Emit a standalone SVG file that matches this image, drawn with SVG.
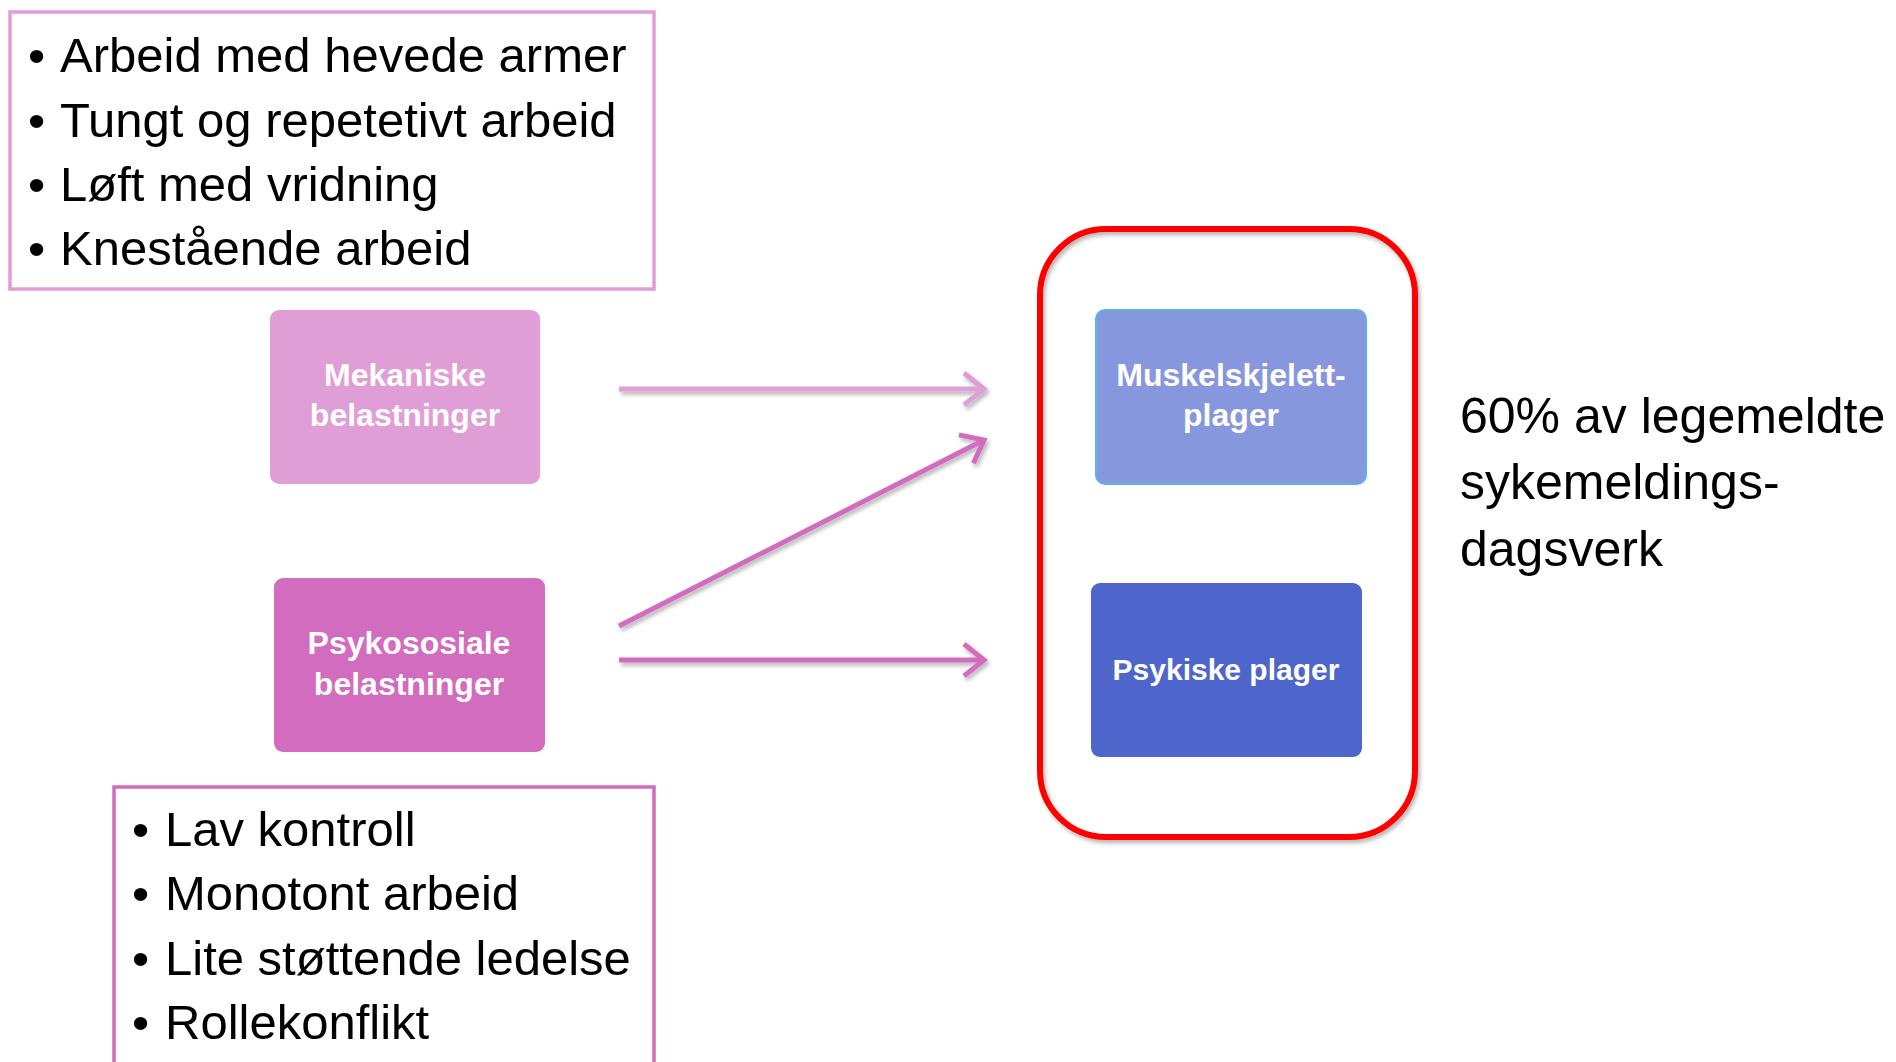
<svg xmlns="http://www.w3.org/2000/svg" width="1896" height="1062" viewBox="0 0 1896 1062">
  <defs>
    <style>
      .list { font-family: "Liberation Sans", Arial, sans-serif; font-size: 49px; fill: #000; }
      .node-text { font-family: "Liberation Sans", Arial, sans-serif; font-size: 32px; font-weight: bold; fill: #fff; text-anchor: middle; }
      .conn { fill: none; stroke-width: 5; }
      .c-light { stroke: #E09ED6; }
      .c-mag { stroke: #D16CBF; }
    </style>
    <filter id="shadow" x="-10%" y="-30%" width="120%" height="160%">
      <feDropShadow dx="2" dy="3" stdDeviation="2" flood-color="#000" flood-opacity="0.3"/>
    </filter>
    <marker id="arrLight" markerUnits="userSpaceOnUse" markerWidth="30" markerHeight="40" viewBox="0 0 30 40" refX="26" refY="20" orient="auto" overflow="visible">
      <path d="M6,4 L26,20 L6,36" fill="none" stroke="#E09ED6" stroke-width="5" stroke-linejoin="miter"/>
    </marker>
    <marker id="arrMag" markerUnits="userSpaceOnUse" markerWidth="30" markerHeight="40" viewBox="0 0 30 40" refX="26" refY="20" orient="auto" overflow="visible">
      <path d="M6,4 L26,20 L6,36" fill="none" stroke="#D16CBF" stroke-width="5" stroke-linejoin="miter"/>
    </marker>
  </defs>
  <rect width="1896" height="1062" fill="#fff"/>

  <g id="list-mekaniske">
    <rect x="10" y="12" width="644" height="277" fill="#fff" stroke="#E09ED6" stroke-width="3.5"/>
    <text class="list" x="28" y="72">•</text>
    <text class="list" x="60" y="72">Arbeid med hevede armer</text>
    <text class="list" x="28" y="137">•</text>
    <text class="list" x="60" y="137">Tungt og repetetivt arbeid</text>
    <text class="list" x="28" y="201">•</text>
    <text class="list" x="60" y="201">Løft med vridning</text>
    <text class="list" x="28" y="265">•</text>
    <text class="list" x="60" y="265">Knestående arbeid</text>
  </g>

  <g id="node-mekaniske">
    <rect x="270" y="310" width="270" height="174" rx="9" fill="#E09ED6"/>
    <text class="node-text" x="405" y="386">Mekaniske</text>
    <text class="node-text" x="405" y="426">belastninger</text>
  </g>

  <g id="node-psykososiale">
    <rect x="274" y="578" width="271" height="174" rx="9" fill="#D16CBF"/>
    <text class="node-text" x="409" y="654">Psykososiale</text>
    <text class="node-text" x="409" y="695">belastninger</text>
  </g>

  <g id="list-psykososiale">
    <path d="M114,1075 L114,787 L654,787 L654,1075" fill="none" stroke="#D16CBF" stroke-width="3.5"/>
    <text class="list" x="132" y="846">•</text>
    <text class="list" x="165" y="846">Lav kontroll</text>
    <text class="list" x="132" y="910">•</text>
    <text class="list" x="165" y="910">Monotont arbeid</text>
    <text class="list" x="132" y="975">•</text>
    <text class="list" x="165" y="975">Lite støttende ledelse</text>
    <text class="list" x="132" y="1039">•</text>
    <text class="list" x="165" y="1039">Rollekonflikt</text>
  </g>

  <g id="connectors" filter="url(#shadow)">
    <line class="conn c-light" x1="619" y1="389" x2="984" y2="389" marker-end="url(#arrLight)"/>
    <line class="conn c-mag" x1="619" y1="626" x2="984" y2="440" marker-end="url(#arrMag)"/>
    <line class="conn c-mag" x1="619" y1="660" x2="984" y2="660" marker-end="url(#arrMag)"/>
  </g>

  <g id="group-plager">
    <rect x="1040" y="229" width="375" height="608" rx="66" fill="none" stroke="#FF0000" stroke-width="6" filter="url(#shadow)"/>
  </g>

  <g id="node-muskel">
    <rect x="1096" y="310" width="270" height="174" rx="9" fill="#8797DD" stroke="#5BB2EA" stroke-width="2"/>
    <text class="node-text" x="1231" y="386">Muskelskjelett-</text>
    <text class="node-text" x="1231" y="426">plager</text>
  </g>

  <g id="node-psykiske">
    <rect x="1091" y="583" width="271" height="174" rx="9" fill="#4E65CB"/>
    <text class="node-text" x="1226" y="680" style="font-size:30px">Psykiske plager</text>
  </g>

  <g id="label-60">
    <text class="list" x="1460" y="433" style="font-size:50px">60% av legemeldte</text>
    <text class="list" x="1460" y="499" style="font-size:50px">sykemeldings-</text>
    <text class="list" x="1460" y="566" style="font-size:50px">dagsverk</text>
  </g>
</svg>
